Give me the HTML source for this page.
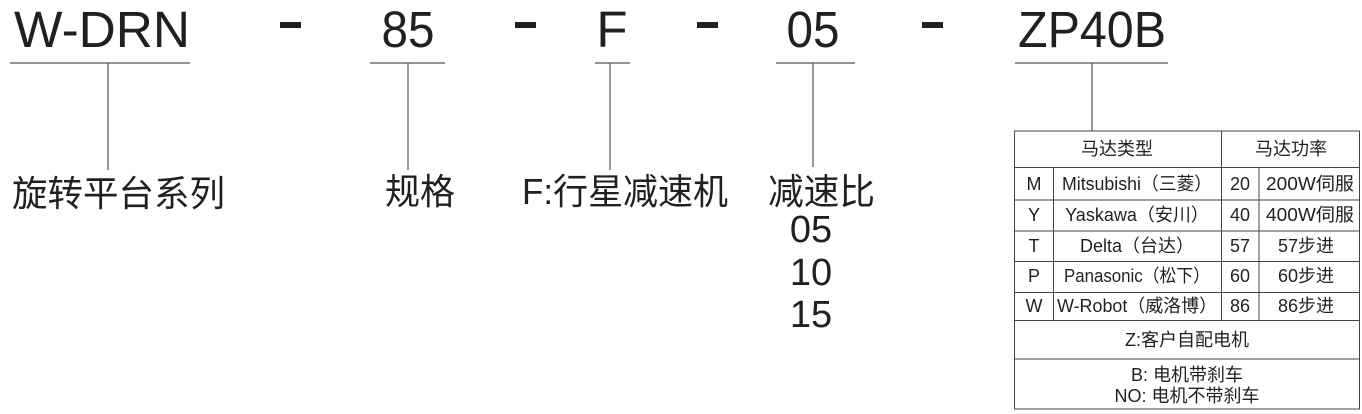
<!DOCTYPE html>
<html><head><meta charset="utf-8"><style>
html,body{margin:0;padding:0;background:#fff;}
svg{display:block;}
text{font-family:"Liberation Sans","Noto Sans CJK SC",sans-serif;fill:#231f20;}
</style></head><body>
<svg width="1362" height="414" viewBox="0 0 1362 414" xmlns="http://www.w3.org/2000/svg">
<g font-size="51">
<text x="14" y="47" textLength="176" lengthAdjust="spacingAndGlyphs">W-DRN</text>
<text x="408" y="47" text-anchor="middle" textLength="53" lengthAdjust="spacingAndGlyphs">85</text>
<text x="612" y="47" text-anchor="middle">F</text>
<text x="813" y="47" text-anchor="middle" textLength="53" lengthAdjust="spacingAndGlyphs">05</text>
<text x="1018" y="47" textLength="148" lengthAdjust="spacingAndGlyphs">ZP40B</text>
</g>
<g fill="#231f20">
<rect x="280" y="22" width="21" height="6"/>
<rect x="515" y="22" width="21" height="6"/>
<rect x="697" y="22" width="21" height="6"/>
<rect x="922" y="22" width="21" height="6"/>
</g>
<g stroke="#555" stroke-width="1.2" fill="none">
<line x1="10" y1="63" x2="190" y2="63"/>
<line x1="370" y1="63" x2="445" y2="63"/>
<line x1="595" y1="63" x2="630" y2="63"/>
<line x1="776" y1="63" x2="855" y2="63"/>
<line x1="1015" y1="63" x2="1168" y2="63"/>
<line x1="108" y1="63" x2="108" y2="170"/>
<line x1="408" y1="63" x2="408" y2="170"/>
<line x1="610" y1="63" x2="610" y2="170"/>
<line x1="813" y1="63" x2="813" y2="167"/>
<line x1="1092" y1="63" x2="1092" y2="131"/>
</g>
<g font-size="36">
<text x="12" y="206" textLength="213" lengthAdjust="spacingAndGlyphs">旋转平台系列</text>
<text x="385" y="204" textLength="70" lengthAdjust="spacingAndGlyphs">规格</text>
<text x="522" y="204" textLength="206" lengthAdjust="spacingAndGlyphs">F:行星减速机</text>
<text x="768" y="204" textLength="107" lengthAdjust="spacingAndGlyphs">减速比</text>
</g>
<g font-size="38" text-anchor="middle">
<text x="811" y="242">05</text>
<text x="811" y="285">10</text>
<text x="811" y="327">15</text>
</g>
<g stroke="#444" stroke-width="1" fill="none">
<rect x="1014.5" y="131" width="345" height="278"/>
<line x1="1014" y1="167.5" x2="1360" y2="167.5"/>
<line x1="1014" y1="200" x2="1360" y2="200"/>
<line x1="1014" y1="231" x2="1360" y2="231"/>
<line x1="1014" y1="261.5" x2="1360" y2="261.5"/>
<line x1="1014" y1="292.5" x2="1360" y2="292.5"/>
<line x1="1014" y1="320.5" x2="1360" y2="320.5"/>
<line x1="1014" y1="359" x2="1360" y2="359"/>
<line x1="1053.5" y1="167" x2="1053.5" y2="320"/>
<line x1="1221.5" y1="131" x2="1221.5" y2="320"/>
<line x1="1259" y1="167" x2="1259" y2="320"/>
</g>
<g font-size="18" text-anchor="middle">
<text x="1117" y="155">马达类型</text>
<text x="1291" y="155">马达功率</text>
<text x="1034" y="190">M</text><text x="1137" y="190" textLength="150" lengthAdjust="spacingAndGlyphs">Mitsubishi（三菱）</text><text x="1240" y="190">20</text><text x="1310" y="190" textLength="88" lengthAdjust="spacingAndGlyphs">200W伺服</text>
<text x="1034" y="221">Y</text><text x="1137" y="221">Yaskawa（安川）</text><text x="1240" y="221">40</text><text x="1310" y="221" textLength="88" lengthAdjust="spacingAndGlyphs">400W伺服</text>
<text x="1034" y="252">T</text><text x="1137" y="252">Delta（台达）</text><text x="1240" y="252">57</text><text x="1306" y="252">57步进</text>
<text x="1034" y="282">P</text><text x="1137" y="282" textLength="146" lengthAdjust="spacingAndGlyphs">Panasonic（松下）</text><text x="1240" y="282">60</text><text x="1306" y="282">60步进</text>
<text x="1034" y="312">W</text><text x="1137" y="312" textLength="160" lengthAdjust="spacingAndGlyphs">W-Robot（威洛博）</text><text x="1240" y="312">86</text><text x="1306" y="312">86步进</text>
<text x="1187" y="346">Z:客户自配电机</text>
<text x="1187" y="381">B: 电机带刹车</text>
<text x="1187" y="402">NO: 电机不带刹车</text>
</g>
</svg>
</body></html>
